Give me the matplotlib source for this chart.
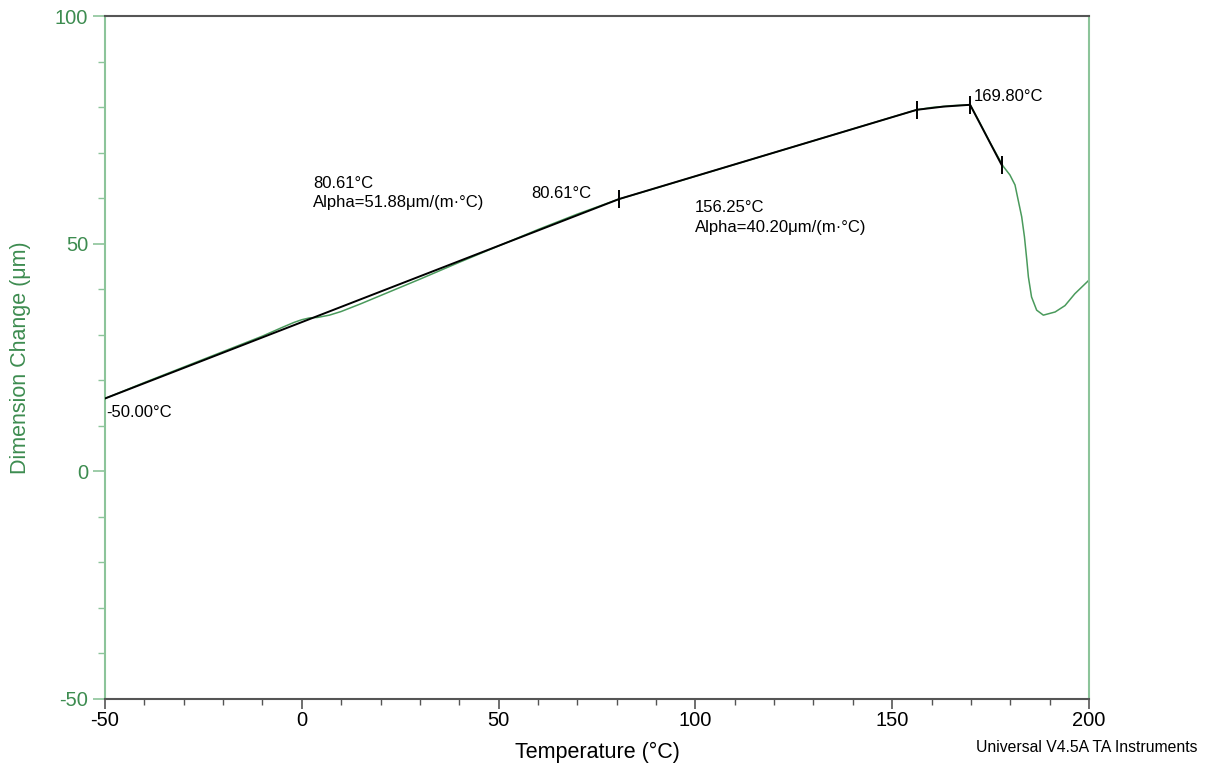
import matplotlib
matplotlib.use("Agg")
import matplotlib.pyplot as plt
from matplotlib.ticker import MultipleLocator

plt.rcParams['font.family'] = ['Liberation Sans', 'DejaVu Sans']
plt.rcParams['axes.unicode_minus'] = False

# measured dimension change curve
temp = [-50, -40, -30, -20, -10, -5, -2, 0, 2, 4, 7, 10, 15, 20, 30, 40, 50, 60, 70,
        80.61, 90, 100, 110, 120, 130, 140, 150, 156.25, 160, 165, 169.8, 172, 175,
        178.2, 179.9, 181.2, 182.0, 182.9, 183.6, 184.2, 184.6, 185.4, 186.7,
        188.4, 191.4, 193.9, 196.4, 200]
dim = [16.0, 19.5, 22.9, 26.3, 29.7, 31.6, 32.7, 33.3, 33.7, 33.8, 34.3, 35.1, 36.8, 38.6,
       42.2, 45.9, 49.5, 53.1, 56.5,
       59.8, 62.2, 64.8, 67.4, 70.0, 72.6, 75.2, 77.8, 79.4, 79.9, 80.3, 80.5, 77.0, 72.0,
       67.0, 65.1, 62.9, 59.6, 55.9, 51.5, 46.4, 42.7, 38.3, 35.4,
       34.3, 35.0, 36.4, 39.0, 42.0]

# analysis (fit) lines
fit_t = [-50, 80.61, 156.25, 163.0, 169.8, 177.8]
fit_v = [16.0, 59.8, 79.4, 80.1, 80.5, 67.3]
mark_t = [80.61, 156.25, 169.8, 177.8]
mark_v = [59.8, 79.4, 80.5, 67.3]

green = '#4a9a5c'
green_txt = '#3d8c50'
spine_green = '#8cc49a'

fig = plt.figure(figsize=(12.05, 7.65), dpi=100)
ax = fig.add_axes([105/1205, 1-699/765, 984/1205, 683/765])

ax.plot(temp, dim, color=green, lw=1.1, zorder=2)
ax.plot(fit_t, fit_v, color='black', lw=1.4, zorder=3)
ax.plot(mark_t, mark_v, ls='none', marker='|', markersize=13, mew=1.4, color='black', zorder=4)

ax.set_xlim(-50, 200)
ax.set_ylim(-50, 100)
ax.xaxis.set_major_locator(MultipleLocator(50))
ax.xaxis.set_minor_locator(MultipleLocator(10))
ax.yaxis.set_major_locator(MultipleLocator(50))
ax.yaxis.set_minor_locator(MultipleLocator(10))

ax.tick_params(axis='x', which='major', length=7, width=1.2, color='#555555', labelsize=14.5, labelcolor='black', pad=2)
ax.tick_params(axis='x', which='minor', length=4, width=1.0, color='#555555')
ax.tick_params(axis='y', which='major', length=9, width=1.2, color=spine_green, labelsize=14.5, labelcolor=green_txt, pad=3)
ax.tick_params(axis='y', which='minor', length=5, width=1.0, color=spine_green)

for s in ['left', 'right']:
    ax.spines[s].set_color(spine_green)
    ax.spines[s].set_linewidth(1.5)
for s in ['top', 'bottom']:
    ax.spines[s].set_color('#555555')
    ax.spines[s].set_linewidth(1.5)

ax.set_xlabel('Temperature (°C)', fontsize=15.5, labelpad=8)
ax.set_ylabel('Dimension Change (μm)', fontsize=15.5, color=green_txt, labelpad=17)

fs = 12
ax.text(-49.6, 13.0, '-50.00°C', fontsize=fs, ha='left', va='center')
ax.text(2.85, 64.9, '80.61°C\nAlpha=51.88μm/(m·°C)', fontsize=fs, ha='left', va='top', linespacing=1.38)
ax.text(58.2, 61.1, '80.61°C', fontsize=fs, ha='left', va='center')
ax.text(99.9, 59.6, '156.25°C\nAlpha=40.20μm/(m·°C)', fontsize=fs, ha='left', va='top', linespacing=1.38)
ax.text(170.8, 82.3, '169.80°C', fontsize=fs, ha='left', va='center')

fig.text(1197/1205, 1-748/765, 'Universal V4.5A TA Instruments', fontsize=11.3, ha='right', va='center')

fig.savefig('out.png', dpi=100)
